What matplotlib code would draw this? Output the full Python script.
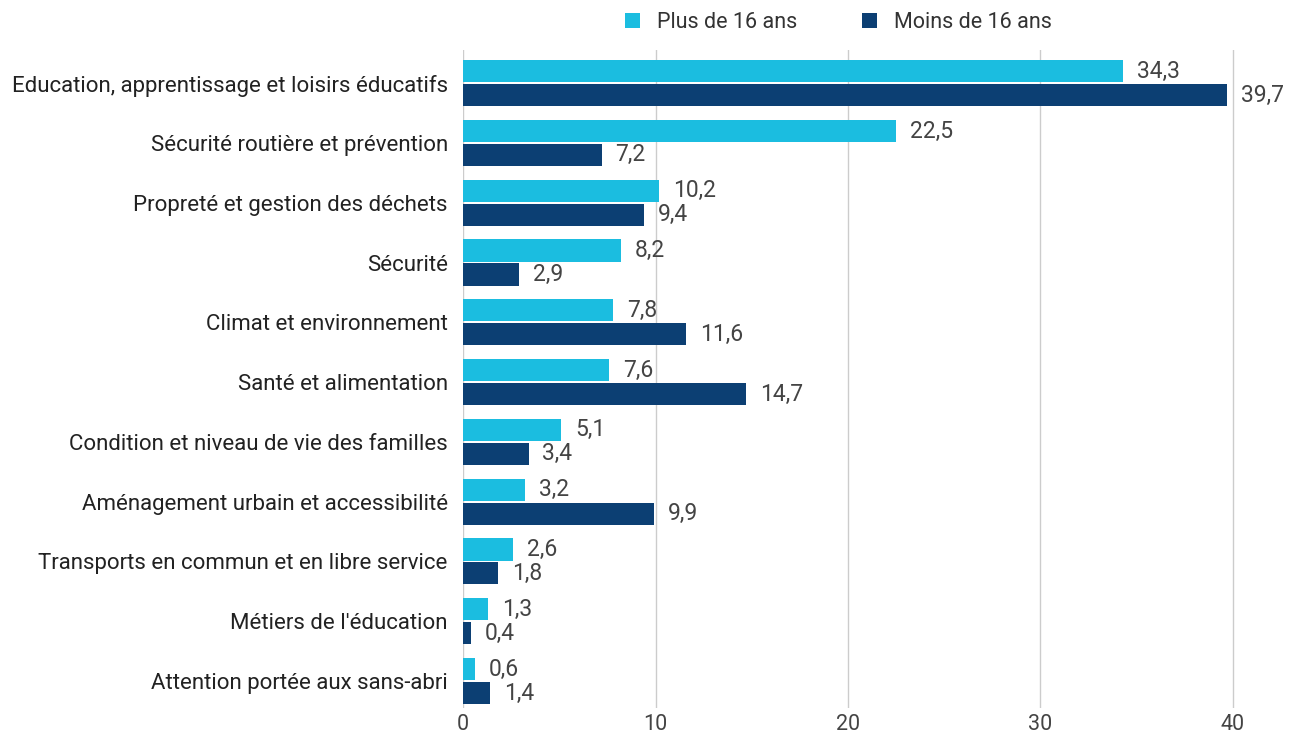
import matplotlib.pyplot as plt
import numpy as np

# Data
categories = [
    "Education, apprentissage et loisirs éducatifs",
    "Sécurité routière et prévention",
    "Propreté et gestion des déchets",
    "Sécurité",
    "Climat et environnement",
    "Santé et alimentation",
    "Condition et niveau de vie des familles",
    "Aménagement urbain et accessibilité",
    "Transports en commun et en libre service",
    "Métiers de l'éducation",
    "Attention portée aux sans-abri",
]
plus_16 = [34.3, 22.5, 10.2, 8.2, 7.8, 7.6, 5.1, 3.2, 2.6, 1.3, 0.6]
moins_16 = [39.7, 7.2, 9.4, 2.9, 11.6, 14.7, 3.4, 9.9, 1.8, 0.4, 1.4]
series_names = ["Plus de 16 ans", "Moins de 16 ans"]

light = '#1BBDE0'
dark = '#0C3F73'
text_col = '#444444'

plt.rcParams['font.family'] = ['Roboto', 'DejaVu Sans']

fig = plt.figure(figsize=(12.9, 7.39), dpi=100)
ax = fig.add_axes([0.359, 0.042, 0.619, 0.89])

y = np.arange(len(categories))
h = 0.37
gap = 0.03
b1 = ax.barh(y - h / 2 - gap / 2, plus_16, height=h, color=light, label=series_names[0], zorder=3)
b2 = ax.barh(y + h / 2 + gap / 2, moins_16, height=h, color=dark, label=series_names[1], zorder=3)

fmt = lambda v: f"{v:.1f}".replace('.', ',')
ax.bar_label(b1, labels=[fmt(v) for v in plus_16], padding=10, fontsize=16.5, color=text_col)
ax.bar_label(b2, labels=[fmt(v) for v in moins_16], padding=10, fontsize=16.5, color=text_col)

ax.set_yticks(y)
ax.set_yticklabels(categories, fontsize=16, color='#222222')
ax.set_ylim(len(categories) - 0.55, -0.55)
ax.set_xlim(0, 41.5)
ax.set_xticks([0, 10, 20, 30, 40])
ax.tick_params(axis='x', labelsize=15.5, colors=text_col, length=0, pad=4)
ax.tick_params(axis='y', length=0, pad=11)
ax.grid(axis='x', color='#cccccc', linewidth=1, zorder=0)
for s in ax.spines.values():
    s.set_visible(False)

ax.legend(loc='lower center', bbox_to_anchor=(0.47, 1.0), ncol=2, frameon=False,
          fontsize=15.5, handlelength=0.7, handleheight=0.7, columnspacing=3,
          labelcolor='#333333', borderaxespad=0.4)

fig.savefig('out.png', dpi=100)
